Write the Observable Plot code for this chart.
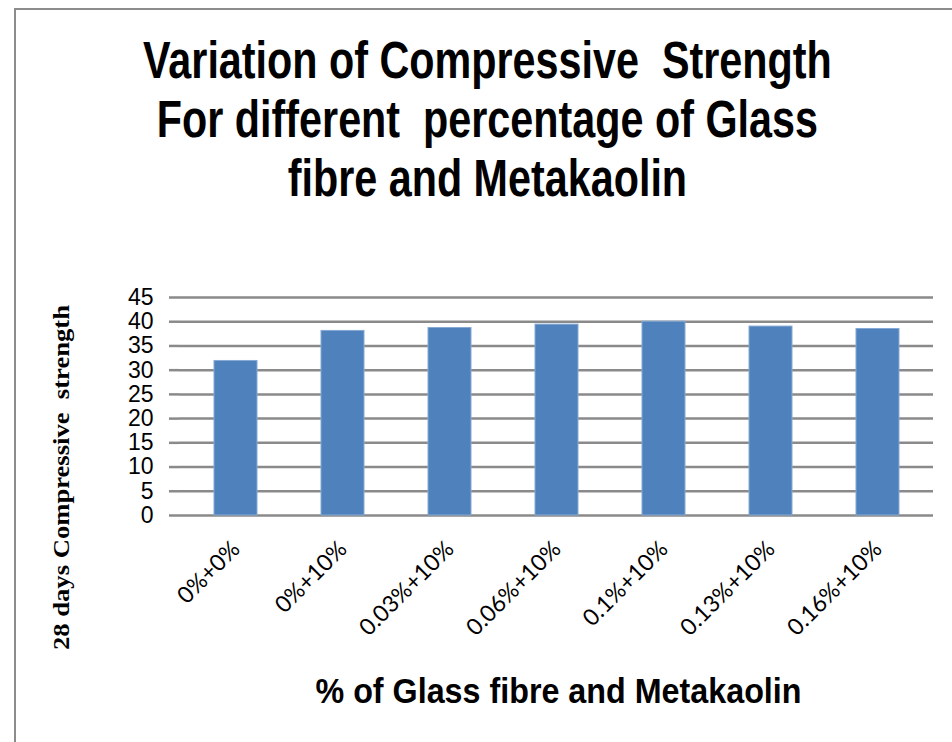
<!DOCTYPE html>
<html>
<head>
<meta charset="utf-8">
<script src="https://cdn.jsdelivr.net/npm/d3@7"></script>
<script src="https://cdn.jsdelivr.net/npm/@observablehq/plot@0.6"></script>
<style>
  html, body { margin: 0; padding: 0; background: #fff; }
  #wrap { position: relative; width: 952px; height: 742px; overflow: hidden; }
  #frame { position: absolute; left: 14px; top: 8px; width: 960px; height: 760px; border: 2px solid #8c8c8c; box-sizing: border-box; }
  #title { position: absolute; left: 0; top: 31px; width: 975px;
    font-family: "Liberation Sans", Arial, sans-serif;
    font-weight: bold; font-size: 51px; line-height: 59px; color: #000; }
  #title div { text-align: center; white-space: pre; transform-origin: 487px 0; }
  #chart { position: absolute; left: 0; top: 0; }
</style>
</head>
<body>
<div id="wrap">
  <div id="frame"></div>
  <div id="title"></div>
  <div id="chart"></div>
</div>
<script>
const titleLines = ["Variation of Compressive  Strength", "For different  percentage of Glass", "fibre and Metakaolin"];
const categories = ["0%+0%", "0%+10%", "0.03%+10%", "0.06%+10%", "0.1%+10%", "0.13%+10%", "0.16%+10%"];
const strength = [31.9, 38.1, 38.7, 39.4, 40.0, 39.0, 38.5];
const yTicks = [0, 5, 10, 15, 20, 25, 30, 35, 40, 45];
const yTitle = "28 days Compressive  strength";
const xTitle = "% of Glass fibre and Metakaolin";

// title (condensed bold look via horizontal scaling)
const titleEl = document.getElementById("title");
for (const line of titleLines) {
  const d = document.createElement("div");
  d.textContent = line;
  d.style.transform = "scaleX(0.81)";
  titleEl.appendChild(d);
}

const data = categories.map((c, i) => ({category: c, value: strength[i]}));

const chart = Plot.plot({
  width: 952,
  height: 742,
  marginLeft: 179,
  marginRight: 19,
  marginTop: 297,
  marginBottom: 227,
  style: {background: "transparent", overflow: "visible"},
  x: {domain: categories, paddingInner: 0.6, paddingOuter: 0.3, label: null},
  y: {domain: [0, 45], label: null},
  marks: [
    Plot.gridY(yTicks, {stroke: "#8a8a8a", strokeOpacity: 1, strokeWidth: 2.5}),
    Plot.barY(data, {x: "category", y: "value", fill: "#4F81BD", stroke: "#86a9d4", strokeWidth: 1}),
    Plot.ruleX([0], {frameAnchor: "left", stroke: "#8a8a8a", strokeWidth: 2.5}),
    Plot.axisY({ticks: yTicks, tickSize: 10, tickPadding: 16, stroke: "#8a8a8a", strokeWidth: 2.5, fontFamily: "'Liberation Sans', Arial, sans-serif", fontSize: 23, fill: "#000", label: null}),
    Plot.axisX({tickSize: 0, tickRotate: -45, textAnchor: "end", dy: 18, dx: 0, fontFamily: "Lato, 'Open Sans', sans-serif", fontSize: 23, fill: "#000", label: null}),
    Plot.text([yTitle], {frameAnchor: "left", textAnchor: "middle", rotate: -90, dx: -118, dy: 71, fontFamily: "'Liberation Serif', 'Times New Roman', serif", fontWeight: "bold", fontSize: 24, fill: "#000", className: "ytitle"}),
    Plot.text([xTitle], {frameAnchor: "bottom", dy: 187, dx: 2, fontFamily: "'Liberation Sans', Arial, sans-serif", fontWeight: "bold", fontSize: 35, fill: "#000", className: "xtitle"})
  ]
});
document.getElementById("chart").appendChild(chart);

// fit axis titles to the widths seen in the reference
d3.select(chart).selectAll(".ytitle text").attr("textLength", 345).attr("lengthAdjust", "spacingAndGlyphs");
d3.select(chart).selectAll(".xtitle text").attr("textLength", 486).attr("lengthAdjust", "spacingAndGlyphs");
</script>
</body>
</html>
